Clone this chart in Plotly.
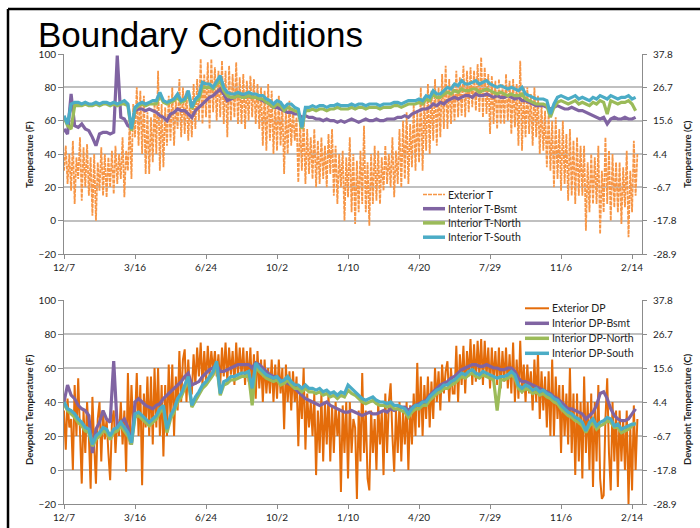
import pandas as pd
import plotly.graph_objects as go

W, H = 700, 528
START = "2011-12-07"
END = "2014-02-28"

# tick labels every 100 days (m/d)
TICK_DATES = pd.date_range(START, periods=9, freq="100D")
F_TICKS = [-20, 0, 20, 40, 60, 80, 100]

# ---------------- Temperature (F) ----------------
# exterior: 4 samples per 10-day block (2.5-day spacing)
EXT_T = [
    30, 45, 22, 40, 18, 48, 10, 38, 25, 50, 12, 44, 20, 46, 15, 38, 3, 40, 0, 35,
    18, 44, 15, 40, 14, 38, 20, 42, 16, 45, 22, 40, 25, 50, 14, 42, 30, 60, 25, 70,
    50, 80, 45, 78, 40, 75, 28, 65, 28, 62, 35, 72, 40, 90, 30, 70, 32, 68, 45, 75,
    48, 80, 45, 72, 55, 85, 50, 80, 52, 78, 48, 75, 50, 82, 55, 85, 60, 97, 58, 88,
    62, 95, 55, 97, 65, 92, 60, 90, 62, 96, 58, 90, 50, 93, 60, 88, 62, 95, 58, 86,
    58, 88, 55, 84, 60, 87, 62, 85, 58, 82, 55, 80, 45, 78, 42, 82, 48, 78, 40, 72,
    42, 75, 45, 70, 28, 68, 40, 72, 45, 67, 48, 62, 23, 60, 30, 62, 22, 55, 28, 50,
    25, 55, 20, 48, 22, 50, 25, 45, 20, 52, 28, 55, 15, 45, 10, 40, 20, 42, 0, 38,
    14, 50, 5, 40, -2, 36, 5, 42, 10, 57, 5, 35, -3, 40, 10, 45, 12, 42, 10, 38,
    18, 45, 22, 40, 20, 50, 14, 42, 22, 55, 20, 60, 25, 65, 22, 58, 32, 70, 30, 65,
    35, 80, 30, 72, 42, 82, 40, 78, 48, 85, 45, 80, 50, 88, 55, 93, 55, 85, 58, 82,
    60, 90, 62, 86, 63, 93, 62, 90, 65, 92, 68, 90, 66, 94, 65, 98, 62, 92, 64, 88,
    52, 87, 58, 84, 55, 85, 58, 82, 58, 88, 60, 84, 52, 85, 56, 82, 45, 96, 42, 80,
    50, 80, 52, 76, 45, 80, 50, 75, 40, 70, 42, 66, 32, 65, 30, 60, 20, 62, 25, 55,
    18, 60, 22, 52, 12, 55, 15, 48, 10, 50, 15, 45, 15, 45, -6, 35, 5, 40, 10, 38,
    10, 45, -8, 30, 5, 50, 10, 42, 0, 40, 8, 35, 5, 35, -2, 32, 8, 42, -10, 30,
    5, 48, 15, 40,
]
# interiors: 2 samples per 10-day block (5-day spacing)
BSMT_T = [
    55, 52, 76, 57, 56, 58, 55, 54, 50, 45, 52, 53, 53, 52, 53, 99, 62, 61, 57, 56,
    66, 67, 67, 66, 67, 66, 65, 63, 62, 60, 64, 65, 67, 66, 66, 64, 62, 66, 68, 70,
    72, 74, 75, 77, 79, 76, 72, 73, 74, 75, 75, 74, 75, 74, 74, 73, 72, 71, 70, 68,
    68, 67, 66, 65, 65, 64, 64, 62, 63, 62, 62, 61, 61, 60, 61, 60, 60, 59, 60, 59,
    60, 61, 60, 59, 60, 61, 60, 60, 61, 60, 60, 61, 61, 61, 62, 62, 63, 62, 64, 65,
    66, 67, 67, 68, 70, 69, 71, 70, 72, 73, 74, 73, 74, 75, 75, 74, 76, 75, 75, 76,
    75, 74, 75, 74, 74, 75, 74, 73, 74, 72, 72, 71, 70, 69, 69, 69, 68, 67, 68, 69,
    68, 67, 67, 68, 67, 66, 66, 65, 64, 63, 62, 61, 62, 58, 61, 62, 61, 61, 62, 61,
    61, 62,
]
NORTH_T = [
    62, 57, 55, 69, 69, 69, 70, 69, 69, 70, 69, 70, 70, 69, 70, 69, 70, 70, 69, 54,
    67, 69, 70, 69, 70, 70, 70, 75, 71, 70, 71, 72, 74, 71, 72, 76, 67, 72, 73, 80,
    80, 80, 79, 82, 84, 78, 75, 74, 74, 75, 74, 74, 75, 74, 74, 73, 73, 71, 70, 68,
    70, 69, 66, 68, 67, 66, 65, 55, 66, 66, 67, 66, 67, 67, 66, 67, 67, 68, 67, 67,
    67, 68, 67, 68, 68, 67, 68, 68, 68, 67, 68, 68, 68, 69, 69, 68, 69, 70, 70, 70,
    71, 70, 73, 72, 76, 74, 74, 76, 77, 76, 78, 77, 79, 78, 78, 79, 79, 77, 78, 79,
    78, 77, 76, 77, 76, 75, 76, 75, 75, 76, 73, 72, 71, 70, 70, 70, 69, 62, 68, 71,
    72, 71, 70, 71, 72, 70, 71, 70, 69, 71, 70, 72, 71, 64, 72, 71, 70, 71, 71, 72,
    70, 66,
]
SOUTH_T = [
    63, 58, 70, 71, 71, 70, 71, 70, 70, 71, 70, 71, 71, 70, 71, 70, 71, 72, 70, 55,
    68, 70, 71, 70, 71, 72, 72, 77, 72, 71, 72, 73, 76, 72, 73, 78, 68, 73, 75, 83,
    82, 82, 80, 84, 87, 80, 77, 76, 76, 77, 76, 76, 77, 76, 76, 75, 75, 73, 72, 70,
    72, 71, 68, 70, 70, 68, 67, 56, 68, 68, 69, 68, 69, 69, 68, 69, 69, 70, 69, 69,
    69, 70, 69, 70, 70, 69, 70, 70, 70, 69, 70, 70, 70, 71, 71, 70, 71, 72, 72, 72,
    73, 72, 75, 74, 78, 76, 76, 78, 80, 79, 82, 81, 84, 82, 82, 83, 84, 82, 83, 84,
    82, 81, 80, 81, 80, 79, 80, 79, 78, 80, 76, 75, 74, 73, 73, 73, 72, 64, 70, 74,
    75, 74, 73, 74, 75, 73, 74, 73, 72, 74, 73, 75, 74, 73, 75, 74, 73, 74, 74, 75,
    73, 74,
]

# ---------------- Dewpoint (F) ----------------
EXT_DP = [
    35, 12, 42, 25, 30, 0, 50, 20, 54, 20, -8, 35, 10, 40, 20, -11, 43, 15, -8, 30,
    40, 5, 35, 18, 30, 10, -6, 28, 35, 10, 30, 20, 40, 15, 35, -1, 57, 15, 50, 25,
    30, 57, 20, 50, -9, 45, 25, 55, 20, 55, 15, 60, 25, 60, 20, 50, 8, 50, 20, 62,
    30, 62, 20, 55, 35, 70, 40, 65, 71, 40, 65, 45, 45, 68, 50, 72, 55, 75, 50, 70,
    52, 73, 55, 70, 58, 70, 55, 68, 50, 72, 55, 75, 52, 72, 56, 70, 50, 75, 55, 72,
    55, 72, 50, 70, 52, 72, 45, 68, 42, 70, 48, 65, 40, 65, 45, 60, 45, 65, 40, 62,
    42, 65, 45, 60, 24, 62, 40, 58, 35, 58, 40, 55, 14, 50, 30, 60, 12, 45, 25, 40,
    20, 45, -3, 35, 10, 45, 5, 40, 15, 45, 5, 38, 10, 40, 20, 35, -13, 38, 10, 40,
    -5, 40, 10, 30, 25, -17, 35, 5, 57, 10, 35, -5, -12, 35, 10, 30, 0, 40, 15, 35,
    -3, 45, 10, 40, 51, 20, -1, 35, 10, 40, 5, 35, 15, 40, 0, 38, 15, 45, 20, 63,
    25, 55, 20, 50, 30, 55, 25, 52, 30, 60, 40, 58, 35, 62, 45, 58, 64, 40, 60, 45,
    45, 73, 40, 68, 50, 73, 45, 70, 55, 77, 50, 74, 52, 76, 55, 77, 50, 76, 55, 72,
    48, 72, 52, 70, 50, 72, 48, 70, 52, 72, 48, 68, 45, 75, 40, 65, 42, 76, 45, 62,
    40, 62, 45, 58, 35, 65, 40, 69, 30, 58, 35, 55, 25, 58, 20, 65, 20, 55, 30, 50,
    10, 50, 20, 45, 15, 60, 10, 45, -3, 45, 5, 40, -5, 55, 10, 40, 0, 45, -10, 40,
    5, 50, -5, -17, -15, 30, 54, 10, -12, 40, 5, 35, -10, 35, 5, 30, 0, 35, -20, 25,
    -12, 38, 0, 30,
]
BSMT_DP = [
    40, 50, 44, 42, 38, 36, 35, 32, 10, 24, 28, 35, 30, 28, 64, 25, 28, 30, 25, 15,
    40, 42, 40, 38, 37, 36, 38, 39, 42, 44, 46, 48, 50, 52, 55, 57, 50, 51, 52, 55,
    57, 59, 60, 62, 58, 58, 59, 60, 61, 62, 62, 62, 62, 60, 63, 62, 60, 58, 56, 55,
    55, 53, 52, 51, 50, 48, 46, 44, 42, 41, 40, 39, 38, 39, 40, 38, 37, 36, 35, 34,
    34, 35, 34, 33, 32, 33, 34, 33, 33, 34, 35, 34, 36, 35, 36, 37, 37, 35, 37, 38,
    39, 40, 41, 44, 46, 48, 50, 51, 52, 54, 55, 57, 59, 60, 61, 62, 62, 61, 61, 62,
    61, 60, 60, 59, 59, 60, 60, 58, 54, 52, 52, 51, 50, 49, 48, 47, 46, 45, 43, 42,
    40, 38, 36, 36, 35, 34, 33, 30, 32, 34, 38, 45, 46, 42, 36, 32, 30, 29, 29, 30,
    33, 36,
]
NORTH_DP = [
    39, 35, 33, 31, 28, 26, 23, 22, 14, 18, 20, 23, 22, 18, 22, 23, 26, 23, 20, 15,
    31, 32, 30, 28, 26, 28, 30, 34, 36, 22, 30, 34, 40, 43, 48, 53, 37, 41, 44, 48,
    50, 53, 56, 62, 44, 50, 51, 53, 53, 54, 55, 55, 56, 38, 61, 58, 56, 54, 53, 52,
    53, 50, 51, 53, 50, 48, 48, 46, 48, 46, 46, 45, 46, 44, 45, 43, 44, 42, 44, 43,
    47, 45, 44, 42, 40, 39, 40, 41, 39, 38, 38, 37, 38, 36, 36, 35, 34, 31, 34, 36,
    36, 38, 38, 41, 43, 45, 46, 48, 48, 50, 51, 53, 55, 54, 56, 57, 55, 54, 56, 55,
    54, 53, 35, 53, 53, 54, 56, 54, 48, 46, 48, 47, 45, 46, 44, 45, 43, 42, 40, 39,
    36, 34, 32, 31, 29, 28, 26, 22, 26, 28, 24, 26, 27, 29, 28, 25, 25, 22, 23, 24,
    26, 28,
]
SOUTH_DP = [
    40, 36, 35, 33, 30, 28, 25, 24, 15, 20, 22, 25, 24, 20, 24, 25, 28, 25, 22, 16,
    33, 34, 32, 30, 28, 30, 32, 36, 38, 24, 32, 36, 42, 45, 50, 55, 38, 43, 46, 50,
    52, 55, 58, 64, 45, 52, 53, 55, 55, 56, 57, 57, 58, 48, 63, 60, 58, 56, 55, 54,
    55, 52, 53, 55, 52, 50, 50, 48, 50, 48, 48, 47, 48, 46, 47, 45, 46, 44, 46, 45,
    50, 48, 46, 44, 42, 41, 42, 43, 41, 40, 40, 39, 40, 38, 38, 37, 36, 33, 36, 38,
    38, 40, 40, 43, 45, 47, 48, 50, 50, 52, 53, 55, 57, 56, 58, 59, 57, 56, 58, 57,
    56, 55, 54, 55, 55, 56, 58, 56, 50, 48, 50, 49, 47, 48, 46, 47, 45, 44, 42, 41,
    38, 36, 34, 33, 31, 30, 28, 23, 28, 30, 26, 28, 29, 31, 30, 26, 27, 24, 25, 26,
    27, 27,
]

TOP_NAMES = ["Exterior T", "Interior T-Bsmt", "Interior T-North", "Interior T-South"]
BOT_NAMES = ["Exterior DP", "Interior DP-Bsmt", "Interior DP-North", "Interior DP-South"]
COL_EXT_T = "#F79646"
COL_EXT_DP = "#E46C0A"
COL_BSMT = "#8064A2"
COL_NORTH = "#9BBB59"
COL_SOUTH = "#4BACC6"

ext_dates = pd.date_range(START, periods=len(EXT_T), freq="60h")
int_dates = pd.date_range(START, periods=len(SOUTH_T), freq="5D")

FONT = "Lato, 'Open Sans', sans-serif"
TXT = "#1e1e1e"
AX = "#8C8C8C"
GRID = "#C0C0C0"
INT_W = 3.2
EXT_T_DASH = "4px,1px"


def px(x):
    return x / W


def py(y):
    return 1 - y / H


fig = go.Figure()
# top panel
fig.add_trace(go.Scatter(x=ext_dates, y=EXT_T, name=TOP_NAMES[0], mode="lines",
                         line=dict(color=COL_EXT_T, width=1.8, dash=EXT_T_DASH), xaxis="x", yaxis="y"))
for name, vals, col in zip(TOP_NAMES[1:], [BSMT_T, NORTH_T, SOUTH_T], [COL_BSMT, COL_NORTH, COL_SOUTH]):
    fig.add_trace(go.Scatter(x=int_dates, y=vals, name=name, mode="lines",
                             line=dict(color=col, width=INT_W), xaxis="x", yaxis="y"))
# bottom panel
fig.add_trace(go.Scatter(x=ext_dates, y=EXT_DP, name=BOT_NAMES[0], mode="lines",
                         line=dict(color=COL_EXT_DP, width=2), xaxis="x2", yaxis="y2"))
for name, vals, col in zip(BOT_NAMES[1:], [BSMT_DP, NORTH_DP, SOUTH_DP], [COL_BSMT, COL_NORTH, COL_SOUTH]):
    fig.add_trace(go.Scatter(x=int_dates, y=vals, name=name, mode="lines",
                             line=dict(color=col, width=INT_W), xaxis="x2", yaxis="y2"))
# empty traces so the Celsius (right) axes are drawn
for ya, xa in [("y3", "x"), ("y4", "x2")]:
    fig.add_trace(go.Scatter(x=[None], y=[None], mode="lines", xaxis=xa, yaxis=ya,
                             showlegend=False, hoverinfo="skip"))

xdom = [px(64), px(642)]
top_dom = [py(254), py(54)]
bot_dom = [py(504), py(300)]

c_vals = [(f - 32) / 1.8 for f in F_TICKS]
c_text = [f"{c:.1f}" for c in c_vals]
c_range = [(-20 - 32) / 1.8, (100 - 32) / 1.8]

tickfont = dict(family=FONT, size=10, color=TXT)
xcommon = dict(domain=xdom, type="date", range=[START, END], tickvals=TICK_DATES,
               tickformat="%-m/%-d", showgrid=False, showline=True, linecolor=AX, linewidth=1,
               ticks="outside", ticklen=4, tickcolor=AX, tickfont=tickfont, zeroline=False,
               automargin=False)
ycommon = dict(range=[-20, 100], tickvals=F_TICKS, showgrid=True, gridcolor=GRID, gridwidth=1.5,
               showline=True, linecolor=AX, linewidth=1, ticks="outside", ticklen=5, tickcolor=AX,
               tickfont=tickfont, zeroline=False, automargin=False)
rcommon = dict(range=c_range, tickvals=c_vals, ticktext=c_text, side="right", showgrid=False,
               showline=True, linecolor=AX, linewidth=1, ticks="outside", ticklen=4, tickcolor=AX,
               tickfont=tickfont, zeroline=False, ticklabelstandoff=4, automargin=False)

fig.update_layout(
    template="none",
    width=W, height=H, margin=dict(l=0, r=0, t=0, b=0, pad=0, autoexpand=False),
    paper_bgcolor="white", plot_bgcolor="white", showlegend=False,
    font=dict(family=FONT, color=TXT),
    xaxis=dict(anchor="y", **xcommon),
    xaxis2=dict(anchor="y2", **xcommon),
    yaxis=dict(domain=top_dom, anchor="x", **ycommon),
    yaxis2=dict(domain=bot_dom, anchor="x2", **ycommon),
    yaxis3=dict(overlaying="y", anchor="x", **rcommon),
    yaxis4=dict(overlaying="y2", anchor="x2", **rcommon),
)

shapes = []
annots = []
# frame
shapes.append(dict(type="line", xref="paper", yref="paper", x0=px(8), x1=px(700), y0=py(9), y1=py(9),
                   line=dict(color="black", width=2.5)))
shapes.append(dict(type="line", xref="paper", yref="paper", x0=px(8), x1=px(8), y0=py(9), y1=py(528),
                   line=dict(color="black", width=2.5)))

# title
annots.append(dict(text="Boundary Conditions", x=px(36), y=py(34), xref="paper", yref="paper",
                   xanchor="left", yanchor="middle", showarrow=False,
                   font=dict(family="Liberation Sans, Arial, sans-serif", size=35, color="black")))

# axis titles
ttl_font = dict(family=FONT, size=9.5, color=TXT, weight="bold")
for txt, x, y in [("Temperature (F)", 29, 154), ("Temperature (C)", 687, 154),
                  ("Dewpoint Temperature (F)", 29, 409), ("Dewpoint Temperature (C)", 687, 409)]:
    annots.append(dict(text=txt, x=px(x), y=py(y), xref="paper", yref="paper", textangle=-90,
                       xanchor="center", yanchor="middle", showarrow=False, font=ttl_font))

# legends (drawn manually)
leg_font = dict(family=FONT, size=10.5, color=TXT)


def legend(names, styles, x0, x1, ys, box):
    shapes.append(dict(type="rect", xref="paper", yref="paper", layer="between",
                       x0=px(box[0]), x1=px(box[1]), y0=py(box[3]), y1=py(box[2]),
                       line=dict(width=0), fillcolor="white"))
    for name, st, y in zip(names, styles, ys):
        shapes.append(dict(type="line", xref="paper", yref="paper", x0=px(x0), x1=px(x1),
                           y0=py(y), y1=py(y), line=st))
        annots.append(dict(text=name, x=px(x1 + 1), y=py(y), xref="paper", yref="paper",
                           xanchor="left", yanchor="middle", showarrow=False, font=leg_font))


legend(TOP_NAMES,
       [dict(color=COL_EXT_T, width=1.6, dash=EXT_T_DASH), dict(color=COL_BSMT, width=3.5),
        dict(color=COL_NORTH, width=3.5), dict(color=COL_SOUTH, width=3.5)],
       423, 445, [194.5, 208.7, 222.9, 237.2], (420, 522, 187, 245))
legend(BOT_NAMES,
       [dict(color=COL_EXT_DP, width=2), dict(color=COL_BSMT, width=3.5),
        dict(color=COL_NORTH, width=3.5), dict(color=COL_SOUTH, width=3.5)],
       525, 549, [308.3, 323.3, 338.3, 353.3], (522, 634, 301, 361))

fig.update_layout(shapes=shapes, annotations=annots)
# the page body has a default 8px margin; remove it so the chart sits at the window's corner
fig.write_html("out.html", config={"displayModeBar": False},
               post_script="document.body.style.margin='0';document.body.style.padding='0';")
